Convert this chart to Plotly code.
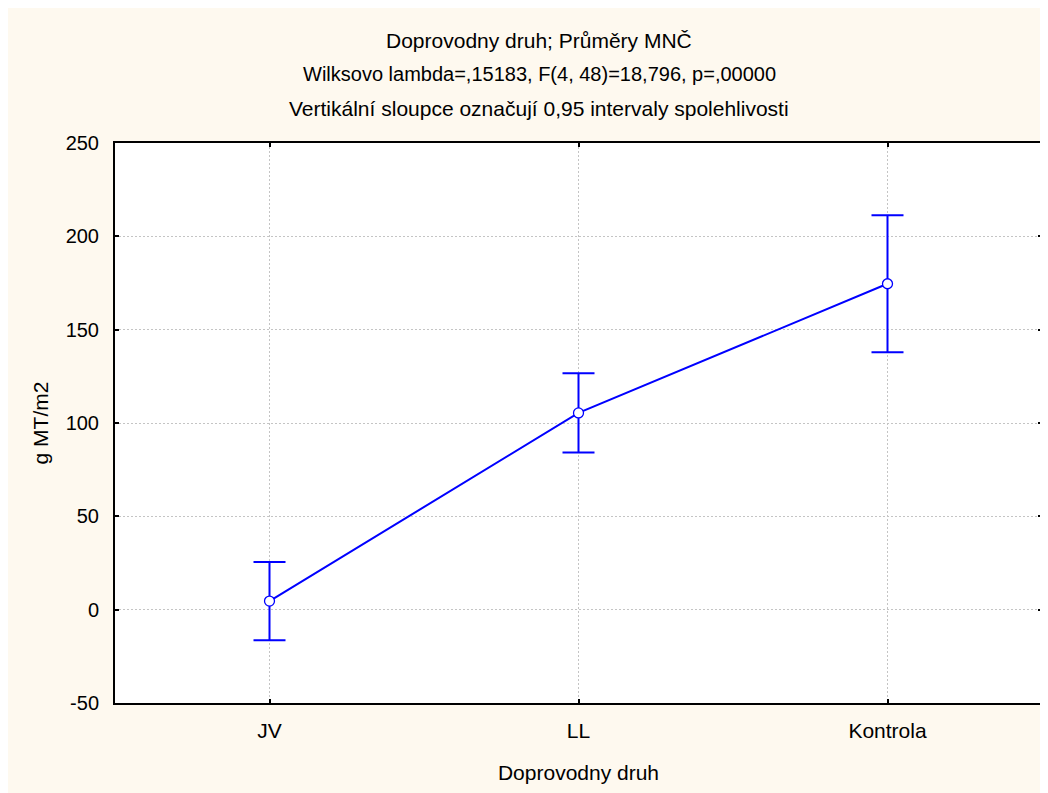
import plotly.graph_objects as go

categories = ["JV", "LL", "Kontrola"]
means = [4.6, 105.4, 174.6]
ci_half = [21.0, 21.2, 36.7]
y_ticks = [-50, 0, 50, 100, 150, 200, 250]
y_tick_labels = ["-50", "0", "50", "100", "150", "200", "250"]

title_lines = [
    "Doprovodny druh; Průměry MNČ",
    "Wilksovo lambda=,15183, F(4, 48)=18,796, p=,00000",
    "Vertikální sloupce označují 0,95 intervaly spolehlivosti",
]
x_title = "Doprovodny druh"
y_title = "g MT/m2"

BLUE = "#0000FF"
CREAM = "#FEF9EF"
FONT = "Liberation Sans, Arial, sans-serif"

W, H = 1048, 793
L, R, T, B = 107, 14, 135, 98
pw = W - L - R
ph = H - T - B

def px_to_paper_x(px):
    return (px - L) / pw

def py_to_paper_y(py):
    return (H - B - py) / ph

fig = go.Figure()
fig.add_trace(go.Scatter(
    x=categories, y=means, mode="lines",
    line=dict(color=BLUE, width=2),
    error_y=dict(type="data", array=ci_half, visible=True,
                 color=BLUE, thickness=2, width=16),
    showlegend=False, hoverinfo="skip",
))
fig.add_trace(go.Scatter(
    x=categories, y=means, mode="markers",
    marker=dict(symbol="circle", size=10, color="white",
                line=dict(color=BLUE, width=1.3)),
    showlegend=False,
))

title_sizes = [21, 20, 21]
annotations = []
for i, line in enumerate(title_lines):
    annotations.append(dict(
        text=line, xref="paper", yref="paper",
        x=px_to_paper_x(531), y=py_to_paper_y(32 + 34 * i),
        xanchor="center", yanchor="middle", showarrow=False,
        font=dict(family=FONT, size=title_sizes[i], color="black"),
    ))

axis_common = dict(
    showline=True, linecolor="black", linewidth=2, mirror="ticks",
    ticks="inside", ticklen=4, tickwidth=2, tickcolor="black",
    showgrid=True, gridcolor="#C4C4C4", gridwidth=1, griddash="2px,2px",
    zeroline=False,
)

fig.update_layout(
    width=W, height=H,
    margin=dict(l=L, r=R, t=T, b=B, pad=0),
    paper_bgcolor=CREAM, plot_bgcolor="white",
    font=dict(family=FONT, size=20, color="black"),
    xaxis=dict(
        **axis_common,
        type="category", range=[-0.5, 2.5],
        tickfont=dict(family=FONT, size=21, color="black"),
        ticklabelstandoff=8,
        title=dict(text=x_title, font=dict(family=FONT, size=21), standoff=24),
    ),
    yaxis=dict(
        **axis_common,
        range=[-50, 250], tickmode="array",
        tickvals=y_ticks, ticktext=y_tick_labels,
        tickfont=dict(family=FONT, size=20, color="black"),
        ticklabelstandoff=10,
        title=dict(text=y_title, font=dict(family=FONT, size=21), standoff=11),
    ),
    annotations=annotations,
)

fig.write_html("out.html")
